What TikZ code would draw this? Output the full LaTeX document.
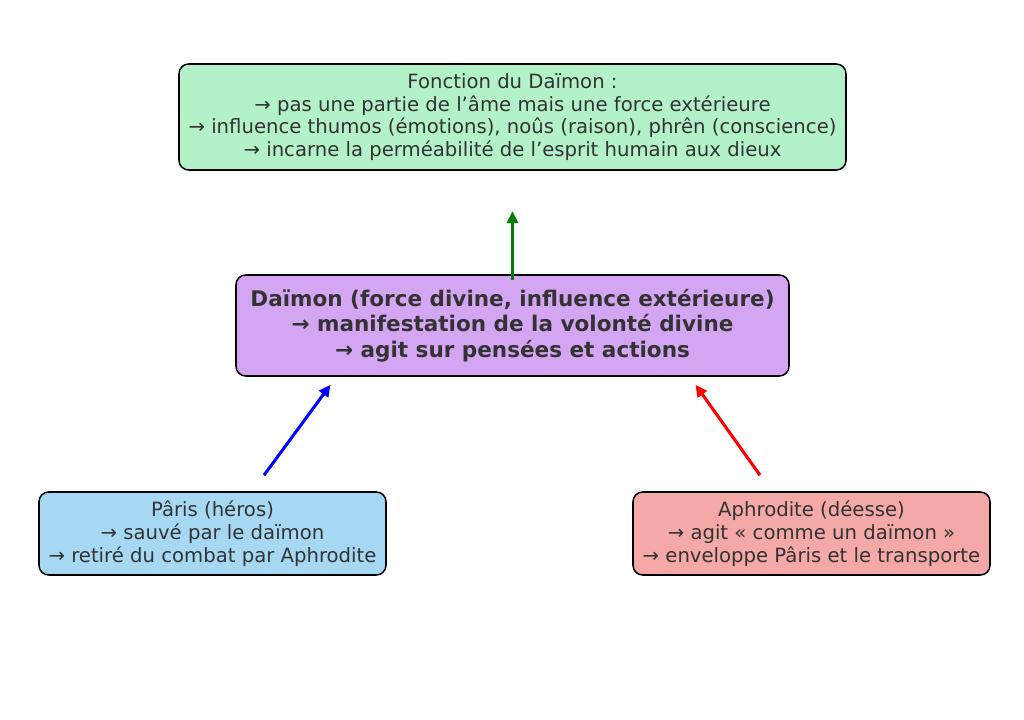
\documentclass[tikz,border=0pt]{standalone}
\usepackage{fontspec}
\setmainfont{DejaVu Sans}
\usetikzlibrary{arrows.meta,calc}
\definecolor{fonctiongreen}{RGB}{179,242,201}
\definecolor{daimonviolet}{RGB}{212,165,243}
\definecolor{parisblue}{RGB}{166,216,243}
\definecolor{aphrored}{RGB}{244,168,168}
\definecolor{textgray}{RGB}{51,51,51}
\begin{document}
\begin{tikzpicture}[x=0.72pt,y=-0.72pt,
    box/.style={draw=black, line width=1.1pt, rounded corners=7pt, align=center,
      text=textgray, inner sep=0pt, font=\fontsize{14.15}{16.4}\selectfont},
    bigbox/.style={box, font=\bfseries\fontsize{15.5}{18.4}\selectfont},
    push/.style={line width=2.2pt, -{Triangle[length=8.5pt,width=8pt]}}]
    \fill[white] (0,0) rectangle (1024,720); % background
    \useasboundingbox (0,0) rectangle (1024,720);
    \node[box, fill=fonctiongreen, minimum width=667*0.72pt, minimum height=106*0.72pt] (fonction) at (512.5,117)
      {Fonction du Daïmon :\\
       → pas une partie de l’âme mais une force extérieure\\
       → influence thumos (émotions), noûs (raison), phrên (conscience)\\
       → incarne la perméabilité de l’esprit humain aux dieux};
    \node[bigbox, fill=daimonviolet, minimum width=553*0.72pt, minimum height=101*0.72pt] (daimon) at (512.5,325.5)
      {Daïmon (force divine, influence extérieure)\\
       → manifestation de la volonté divine\\
       → agit sur pensées et actions};
    \node[box, fill=parisblue, minimum width=347*0.72pt, minimum height=83*0.72pt] (paris) at (212.5,533.5)
      {Pâris (héros)\\
       → sauvé par le daïmon\\
       → retiré du combat par Aphrodite};
    \node[box, fill=aphrored, minimum width=357*0.72pt, minimum height=83*0.72pt] (aphrodite) at (811.5,533.5)
      {Aphrodite (déesse)\\
       → agit « comme un daïmon »\\
       → enveloppe Pâris et le transporte};
    \coordinate (daimonup) at ($(daimon.north)+(0,6)$);
    \coordinate (fonctiondown) at ($(daimon.north)+(0,-63)$);
    \coordinate (parisup) at ($(paris.north)+(51.5,-16)$);
    \coordinate (daimonleft) at ($(daimon.south)+(-182,8)$);
    \coordinate (aphroditeup) at ($(aphrodite.north)+(-51.5,-16)$);
    \coordinate (daimonright) at ($(daimon.south)+(183,8)$);
    \draw[push, color={rgb,255:red,0;green,128;blue,0}] (daimonup) -- (fonctiondown); % function
    \draw[push, blue] (parisup) -- (daimonleft); % hero
    \draw[push, red] (aphroditeup) -- (daimonright); % goddess
\end{tikzpicture}
\end{document}
